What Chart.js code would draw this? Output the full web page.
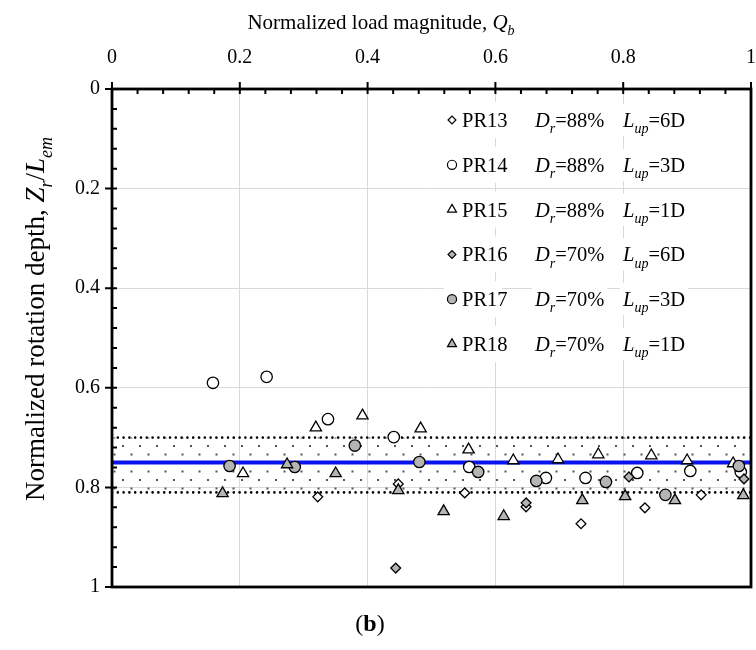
<!DOCTYPE html>
<html>
<head>
<meta charset="utf-8">
<title>Normalized rotation depth vs load magnitude</title>
<script src="https://cdn.jsdelivr.net/npm/chart.js@4.4.1/dist/chart.umd.min.js"></script>
<style>
  html, body { margin: 0; padding: 0; background: #fff; }
  #wrap { position: relative; width: 756px; height: 650px; }
</style>
</head>
<body>
<div id="wrap"><canvas id="chart" width="756" height="650"></canvas></div>
<script>
// axis ticks
const xTicks = [0, 0.2, 0.4, 0.6, 0.8, 1];
const yTicks = [0, 0.2, 0.4, 0.6, 0.8, 1];
const minorStep = 0.04;

// series info
const seriesNames = ['PR13', 'PR14', 'PR15', 'PR16', 'PR17', 'PR18'];
const densityLabels = ['88%', '88%', '88%', '70%', '70%', '70%'];
const upLengthLabels = ['6D', '3D', '1D', '6D', '3D', '1D'];

// Qb (x) and Zr/Lem (y)
const pr13Q = [0.322, 0.448, 0.552, 0.648, 0.734, 0.834, 0.922];
const pr13Z = [0.819, 0.793, 0.811, 0.839, 0.873, 0.841, 0.815];

const pr14Q = [0.158, 0.242, 0.338, 0.441, 0.559, 0.679, 0.741, 0.822, 0.905, 0.984];
const pr14Z = [0.590, 0.578, 0.663, 0.699, 0.759, 0.781, 0.781, 0.771, 0.767, 0.769];

const pr15Q = [0.205, 0.319, 0.392, 0.483, 0.558, 0.628, 0.698, 0.761, 0.844, 0.900, 0.972];
const pr15Z = [0.772, 0.680, 0.656, 0.682, 0.724, 0.746, 0.744, 0.734, 0.736, 0.746, 0.752];

const pr16Q = [0.444, 0.648, 0.809, 0.989];
const pr16Z = [0.962, 0.831, 0.779, 0.783];

const pr17Q = [0.184, 0.286, 0.380, 0.481, 0.573, 0.664, 0.773, 0.866, 0.981];
const pr17Z = [0.757, 0.759, 0.716, 0.749, 0.769, 0.787, 0.789, 0.815, 0.757];

const pr18Q = [0.173, 0.274, 0.350, 0.448, 0.519, 0.613, 0.736, 0.803, 0.881, 0.988];
const pr18Z = [0.812, 0.754, 0.772, 0.806, 0.848, 0.858, 0.826, 0.818, 0.826, 0.816];

// mean rotation depth and its band
const lineRange = [0, 1];
const meanDepth = 0.75;
const bandTop = 0.70;
const bandBottom = 0.81;

const serif = "'Liberation Serif', 'Times New Roman', serif";
Chart.defaults.font.family = serif;
Chart.defaults.font.size = 20;
Chart.defaults.color = '#000';

const seriesQ = [pr13Q, pr14Q, pr15Q, pr16Q, pr17Q, pr18Q];
const seriesZ = [pr13Z, pr14Z, pr15Z, pr16Z, pr17Z, pr18Z];
const looks = [
    { pointStyle: 'rectRot', color: '#ffffff', radius: 4.9 },
    { pointStyle: 'circle', color: '#ffffff', radius: 5.7 },
    { pointStyle: 'triangle', color: '#ffffff', radius: 6.5 },
    { pointStyle: 'rectRot', color: '#b4b4b4', radius: 4.9 },
    { pointStyle: 'circle', color: '#b4b4b4', radius: 5.7 },
    { pointStyle: 'triangle', color: '#b4b4b4', radius: 6.5 }
];

const canvas = document.getElementById('chart');

// dotted fill for the band
function dotPattern() {
    const c = document.createElement('canvas');
    c.width = 17;
    c.height = 17;
    const g = c.getContext('2d');
    g.fillStyle = '#555';
    g.fillRect(3, 3, 2, 2);
    g.fillRect(11.5, 11.5, 2, 2);
    return canvas.getContext('2d').createPattern(c, 'repeat');
}

const scatterSets = seriesNames.map((name, i) => ({
    type: 'scatter',
    label: name,
    data: seriesQ[i].map((q, k) => ({ x: q, y: seriesZ[i][k] })),
    pointStyle: looks[i].pointStyle,
    pointRadius: looks[i].radius,
    pointHoverRadius: looks[i].radius,
    backgroundColor: looks[i].color,
    borderColor: '#000',
    borderWidth: 1.3,
    order: 6 - i
}));

const flatLine = v => lineRange.map(q => ({ x: q, y: v }));

const datasets = scatterSets.concat([
    {
        type: 'line', label: 'mean', data: flatLine(meanDepth),
        borderColor: '#0a14f0', borderWidth: 4, pointRadius: 0, fill: false, order: 7
    },
    {
        type: 'line', label: 'bandTop', data: flatLine(bandTop),
        borderColor: '#000', borderWidth: 2.6, borderDash: [0, 5.8], borderCapStyle: 'round',
        pointRadius: 0, fill: '+1', backgroundColor: dotPattern(), order: 8
    },
    {
        type: 'line', label: 'bandBottom', data: flatLine(bandBottom),
        borderColor: '#000', borderWidth: 2.6, borderDash: [0, 5.8], borderCapStyle: 'round',
        pointRadius: 0, fill: false, order: 8
    }
]);

// rich text helpers: style is '' / 'it' / 'it sub' / 'bold'
function fontFor(style, size) {
    const it = style.includes('it') ? 'italic ' : '';
    const b = style.includes('bold') ? 'bold ' : '';
    const sz = style.includes('sub') ? Math.round(size * 0.68) : size;
    return `${it}${b}${sz}px ${serif}`;
}
function richWidth(ctx, parts, size) {
    let w = 0;
    parts.forEach(([t, s]) => { ctx.font = fontFor(s, size); w += ctx.measureText(t).width; });
    return w;
}
function drawRich(ctx, parts, x, y, size, align) {
    let cx = align === 'center' ? x - richWidth(ctx, parts, size) / 2 : x;
    ctx.textBaseline = 'alphabetic';
    ctx.textAlign = 'left';
    parts.forEach(([t, s]) => {
        ctx.font = fontFor(s, size);
        ctx.fillText(t, cx, s.includes('sub') ? y + size * 0.3 : y);
        cx += ctx.measureText(t).width;
    });
}

// legend inside the plot
const legendPlugin = {
    id: 'richLegend',
    beforeDatasetsDraw(chart) {
        const { ctx, chartArea: a } = chart;
        ctx.save();
        seriesNames.forEach((name, i) => {
            const cy = a.top + 31 + i * 44.8;
            const pieces = [
                { x: a.left + 350, parts: [[name, '']] },
                { x: a.left + 423, parts: [['D', 'it'], ['r', 'it sub'], ['=' + densityLabels[i], '']] },
                { x: a.left + 511, parts: [['L', 'it'], ['up', 'it sub'], ['=' + upLengthLabels[i], '']] }
            ];
            ctx.fillStyle = '#fff';
            ctx.fillRect(a.left + 332, cy - 18, 58, 36);
            pieces.slice(1).forEach(p => {
                ctx.fillRect(p.x - 3, cy - 16, richWidth(ctx, p.parts, 20.5) + 6, 32);
            });
            ctx.fillStyle = '#000';
            pieces.forEach(p => drawRich(ctx, p.parts, p.x, cy + 7, 20.5, 'left'));

            ctx.fillStyle = looks[i].color;
            ctx.strokeStyle = '#000';
            ctx.lineWidth = 1.2;
            Chart.helpers.drawPoint(ctx, {
                pointStyle: looks[i].pointStyle,
                radius: looks[i].radius * 0.8,
                borderWidth: 1.2,
                rotation: 0
            }, a.left + 340, cy);
        });
        ctx.restore();
    }
};

// frame, inward minor ticks, titles and caption
const framePlugin = {
    id: 'frame',
    afterDraw(chart) {
        const { ctx, chartArea: a, scales: { x, y } } = chart;
        ctx.save();
        ctx.strokeStyle = '#000';
        ctx.lineWidth = 2.8;
        ctx.strokeRect(a.left, a.top, a.right - a.left, a.bottom - a.top);

        ctx.lineWidth = 2;
        ctx.beginPath();
        const n = Math.round(1 / minorStep);
        for (let i = 0; i <= n; i++) {
            const v = i * minorStep;
            const major = i % 5 === 0;
            const px = x.getPixelForValue(v);
            ctx.moveTo(px, a.top - (major ? 7 : 0));
            ctx.lineTo(px, a.top + 5);
            const py = y.getPixelForValue(v);
            ctx.moveTo(a.left - (major ? 7 : 0), py);
            ctx.lineTo(a.left + 5, py);
        }
        ctx.stroke();

        ctx.fillStyle = '#000';
        drawRich(ctx, [['Normalized load magnitude, ', ''], ['Q', 'it'], ['b', 'it sub']], 381, 29, 21, 'center');

        ctx.save();
        ctx.translate(44, 319);
        ctx.rotate(-Math.PI / 2);
        drawRich(ctx, [['Normalized rotation depth, ', ''], ['Z', 'it'], ['r', 'it sub'], ['/', ''], ['L', 'it'], ['em', 'it sub']], 0, 0, 27, 'center');
        ctx.restore();

        drawRich(ctx, [['(', ''], ['b', 'bold'], [')', '']], 370, 631, 24, 'center');
        ctx.restore();
    }
};

new Chart(canvas, {
    type: 'scatter',
    data: { datasets: datasets },
    options: {
        responsive: false,
        animation: false,
        events: [],
        layout: { autoPadding: false, padding: { top: 39, right: 4, bottom: 63, left: 0 } },
        plugins: {
            legend: { display: false },
            tooltip: { enabled: false },
            title: { display: false }
        },
        scales: {
            x: {
                type: 'linear',
                position: 'top',
                min: 0,
                max: 1,
                afterBuildTicks: s => { s.ticks = xTicks.map(v => ({ value: v })); },
                afterFit: s => { s.height = 50; },
                ticks: { padding: 0, maxRotation: 0, callback: v => String(v) },
                grid: {
                    color: '#d9d9d9', lineWidth: 1,
                    drawTicks: true, tickLength: 19, tickColor: 'rgba(0,0,0,0)'
                },
                border: { display: false }
            },
            y: {
                type: 'linear',
                reverse: true,
                min: 0,
                max: 1,
                afterBuildTicks: s => { s.ticks = yTicks.map(v => ({ value: v })); },
                afterFit: s => { s.width = 112; },
                ticks: { padding: 0, callback: v => String(v) },
                grid: {
                    color: '#d9d9d9', lineWidth: 1,
                    drawTicks: true, tickLength: 12, tickColor: 'rgba(0,0,0,0)'
                },
                border: { display: false }
            }
        }
    },
    plugins: [legendPlugin, framePlugin]
});
</script>
</body>
</html>
